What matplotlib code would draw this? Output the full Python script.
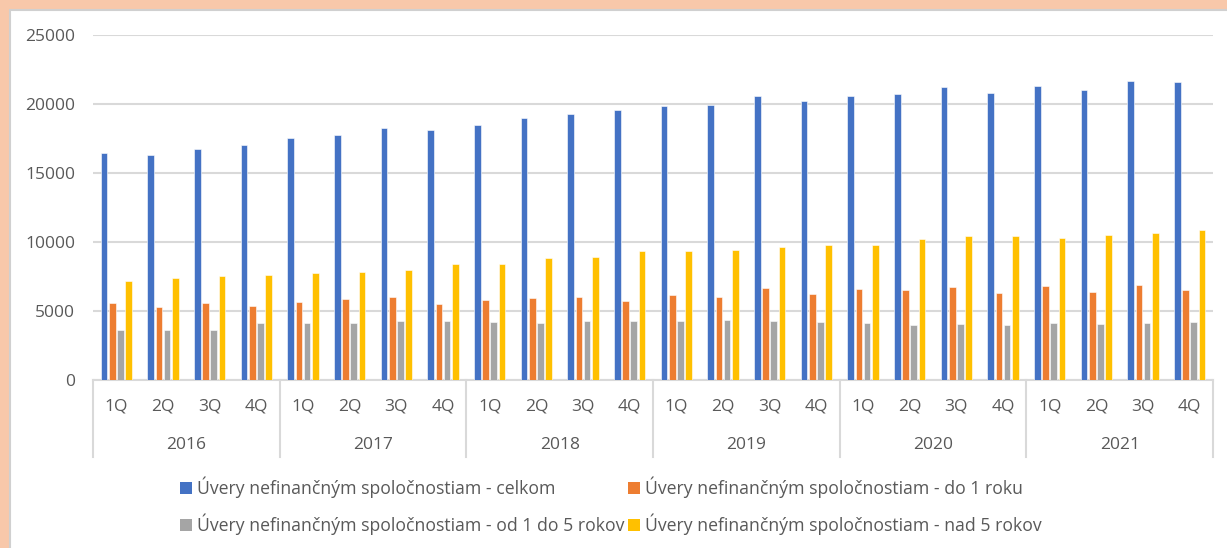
import numpy as np
import matplotlib
matplotlib.use("Agg")
import matplotlib.pyplot as plt
from matplotlib.patches import Patch, Rectangle

years = ["2016", "2017", "2018", "2019", "2020", "2021"]
quarters = ["1Q", "2Q", "3Q", "4Q"]

series_names = [
    "Úvery nefinančným spoločnostiam - celkom",
    "Úvery nefinančným spoločnostiam - do 1 roku",
    "Úvery nefinančným spoločnostiam - od 1 do 5 rokov",
    "Úvery nefinančným spoločnostiam - nad 5 rokov",
]

celkom = [16430, 16280, 16740, 17050,
          17510, 17730, 18280, 18140,
          18490, 18975, 19290, 19530,
          19820, 19920, 20600, 20210,
          20600, 20745, 21200, 20820,
          21280, 20990, 21690, 21615]
do_1_roku = [5575, 5285, 5575, 5355,
             5670, 5840, 5985, 5525,
             5816, 5960, 6034, 5743,
             6130, 6034, 6664, 6205,
             6590, 6520, 6760, 6300,
             6830, 6375, 6905, 6520]
od_1_do_5 = [3635, 3635, 3635, 4120,
             4120, 4120, 4265, 4265,
             4168, 4095, 4265, 4265,
             4265, 4338, 4265, 4168,
             4120, 3950, 4050, 3950,
             4120, 4050, 4120, 4190]
nad_5_rokov = [7150, 7390, 7535, 7610,
               7780, 7850, 8000, 8380,
               8380, 8845, 8917, 9380,
               9380, 9453, 9622, 9767,
               9790, 10250, 10400, 10470,
               10320, 10540, 10640, 10880]

colors = ["#4472C4", "#ED7D31", "#A5A5A5", "#FFC000"]
text_col = "#595959"
grid_col = "#D9D9D9"

plt.rcParams["font.family"] = ["Open Sans", "DejaVu Sans"]

fig = plt.figure(figsize=(12.27, 5.48), dpi=100)
fig.patch.set_facecolor("#F8C8AA")
# white chart panel with grey border
fig.patches.append(Rectangle((10 / 1227, -0.01), 1.02, 1 - 10 / 548 + 0.01,
                             transform=fig.transFigure, facecolor="white",
                             edgecolor="#D0D0D0", lw=1.5, zorder=-5))

ax = fig.add_axes([93 / 1227, 1 - 380 / 548, 1120 / 1227, 345 / 548])
ax.set_zorder(2)
ax.set_facecolor("none")

n = len(years) * len(quarters)
x = np.arange(n)
data = [celkom, do_1_roku, od_1_do_5, nad_5_rokov]
pitch = 0.178
width = 0.143
for i, (vals, c) in enumerate(zip(data, colors)):
    ax.bar(x + (i - 1.5) * pitch, vals, width=width, color=c,
           edgecolor="white", linewidth=0.4, zorder=3, label=series_names[i])

ax.set_xlim(-0.5, n - 0.5)
ax.set_ylim(0, 25000)
ax.set_yticks(np.arange(0, 25001, 5000))
ax.yaxis.grid(True, color=grid_col, lw=1.5, zorder=0)
ax.tick_params(axis="y", length=0, labelsize=12.5, labelcolor=text_col, pad=13)
for s in ["top", "right", "left"]:
    ax.spines[s].set_visible(False)
ax.spines["bottom"].set_color(grid_col)
ax.spines["bottom"].set_linewidth(1.5)

ax.set_xticks(x)
ax.set_xticklabels(quarters * len(years))
ax.tick_params(axis="x", length=0, labelsize=12.5, labelcolor=text_col, pad=13)

trans = ax.get_xaxis_transform()
for k, yr in enumerate(years):
    ax.text(k * 4 + 1.5, -0.188, yr, transform=trans, ha="center", va="center",
            fontsize=12.5, color=text_col)
for k in range(len(years) + 1):
    ax.plot([k * 4 - 0.5, k * 4 - 0.5], [0, -0.223], transform=trans,
            color=grid_col, lw=1.5, clip_on=False)

# legend fills column-wise, so reorder to read row-wise
order = [0, 2, 1, 3]
handles = [Patch(facecolor=colors[i], edgecolor="none") for i in order]
labels = [series_names[i] for i in order]
fig.legend(handles, labels, ncol=2, loc="center",
           bbox_to_anchor=(611 / 1227, 1 - 506 / 548), frameon=False,
           fontsize=12.7, labelcolor=text_col, handlelength=0.65,
           handleheight=0.65, handletextpad=0.3, columnspacing=0.2,
           labelspacing=0.9)

fig.savefig("out.png", dpi=100, facecolor=fig.get_facecolor())
